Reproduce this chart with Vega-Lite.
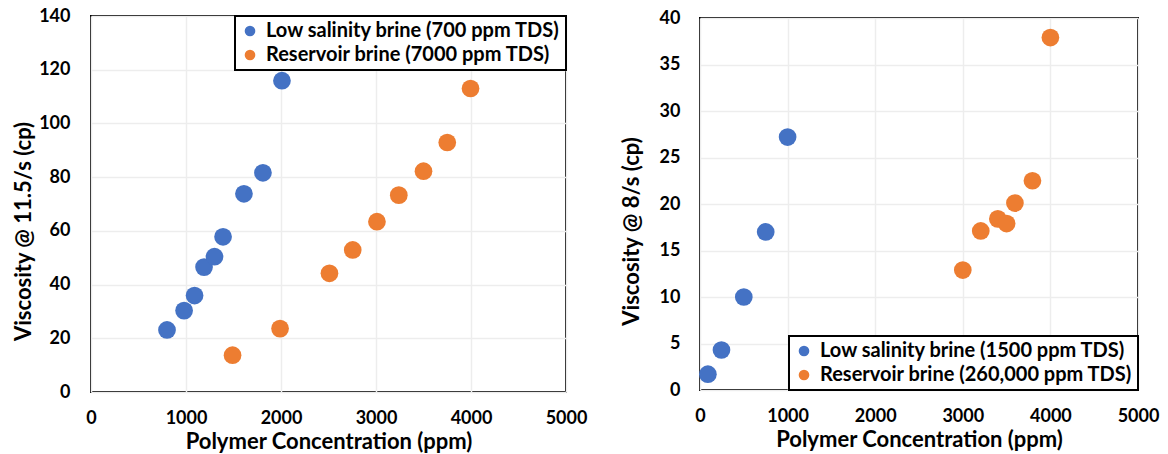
{
  "$schema": "https://vega.github.io/schema/vega-lite/v6.json",
  "padding": {"left": 11, "top": 6, "right": 5, "bottom": 0},
  "bounds": "flush",
  "center": true,
  "spacing": 134,
  "config": {
    "view": {"stroke": "black", "strokeWidth": 2},
    "font": "Lato",
    "axis": {
      "labelFont": "Lato", "labelFontWeight": "bold", "labelFontSize": 18, "labelColor": "black",
      "titleFont": "Lato", "titleFontWeight": "bold", "titleFontSize": 22, "titleColor": "black",
      "ticks": false, "domain": false, "gridColor": "#EDEDED", "gridWidth": 1.5, "labelFlush": false
    },
    "legend": {
      "offset": 0, "title": null, "strokeColor": "black", "strokeWidth": 2, "fillColor": "white",
      "padding": 5, "symbolType": "circle", "symbolSize": 113, "symbolStrokeWidth": 0,
      "labelFont": "Lato", "labelFontWeight": "bold", "labelFontSize": 20, "labelColor": "black",
      "rowPadding": 4, "labelOffset": 6, "labelLimit": 400
    }
  },
  "datasets": {
    "left": [
      {"series": "Low salinity brine (700 ppm TDS)", "conc": 800, "visc": 23.1},
      {"series": "Low salinity brine (700 ppm TDS)", "conc": 980, "visc": 30.3},
      {"series": "Low salinity brine (700 ppm TDS)", "conc": 1090, "visc": 35.9},
      {"series": "Low salinity brine (700 ppm TDS)", "conc": 1190, "visc": 46.5},
      {"series": "Low salinity brine (700 ppm TDS)", "conc": 1300, "visc": 50.4},
      {"series": "Low salinity brine (700 ppm TDS)", "conc": 1390, "visc": 57.8},
      {"series": "Low salinity brine (700 ppm TDS)", "conc": 1610, "visc": 73.8},
      {"series": "Low salinity brine (700 ppm TDS)", "conc": 1810, "visc": 81.6},
      {"series": "Low salinity brine (700 ppm TDS)", "conc": 2010, "visc": 115.9},
      {"series": "Reservoir brine (7000 ppm TDS)", "conc": 1490, "visc": 13.7},
      {"series": "Reservoir brine (7000 ppm TDS)", "conc": 1990, "visc": 23.6},
      {"series": "Reservoir brine (7000 ppm TDS)", "conc": 2510, "visc": 44.2},
      {"series": "Reservoir brine (7000 ppm TDS)", "conc": 2755, "visc": 52.9},
      {"series": "Reservoir brine (7000 ppm TDS)", "conc": 3010, "visc": 63.4},
      {"series": "Reservoir brine (7000 ppm TDS)", "conc": 3240, "visc": 73.3},
      {"series": "Reservoir brine (7000 ppm TDS)", "conc": 3500, "visc": 82.2},
      {"series": "Reservoir brine (7000 ppm TDS)", "conc": 3750, "visc": 92.9},
      {"series": "Reservoir brine (7000 ppm TDS)", "conc": 3995, "visc": 113.0}
    ],
    "right": [
      {"series": "Low salinity brine (1500 ppm TDS)", "conc": 90, "visc": 1.7},
      {"series": "Low salinity brine (1500 ppm TDS)", "conc": 245, "visc": 4.3},
      {"series": "Low salinity brine (1500 ppm TDS)", "conc": 500, "visc": 10.0},
      {"series": "Low salinity brine (1500 ppm TDS)", "conc": 750, "visc": 17.0},
      {"series": "Low salinity brine (1500 ppm TDS)", "conc": 1000, "visc": 27.2},
      {"series": "Reservoir brine (260,000 ppm TDS)", "conc": 3000, "visc": 12.9},
      {"series": "Reservoir brine (260,000 ppm TDS)", "conc": 3205, "visc": 17.1},
      {"series": "Reservoir brine (260,000 ppm TDS)", "conc": 3400, "visc": 18.4},
      {"series": "Reservoir brine (260,000 ppm TDS)", "conc": 3500, "visc": 17.9},
      {"series": "Reservoir brine (260,000 ppm TDS)", "conc": 3595, "visc": 20.1},
      {"series": "Reservoir brine (260,000 ppm TDS)", "conc": 3795, "visc": 22.5},
      {"series": "Reservoir brine (260,000 ppm TDS)", "conc": 4000, "visc": 37.9}
    ]
  },
  "hconcat": [
    {
      "width": 475, "height": 376,
      "data": {"name": "left"},
      "mark": {"type": "circle", "size": 314, "opacity": 1},
      "encoding": {
        "x": {"field": "conc", "type": "quantitative", "scale": {"domain": [0, 5000], "nice": false},
          "axis": {"values": [0, 1000, 2000, 3000, 4000, 5000], "format": "d", "title": "Polymer Concentration (ppm)", "labelPadding": 17, "titlePadding": 4}},
        "y": {"field": "visc", "type": "quantitative", "scale": {"domain": [0, 140], "nice": false},
          "axis": {"values": [0, 20, 40, 60, 80, 100, 120, 140], "title": "Viscosity @ 11.5/s (cp)", "labelPadding": 21, "titlePadding": 3, "titleY": 215}},
        "color": {"field": "series", "type": "nominal",
          "scale": {"domain": ["Low salinity brine (700 ppm TDS)", "Reservoir brine (7000 ppm TDS)"], "range": ["#4472C4", "#ED7D31"]},
          "legend": {"orient": "top-right"}}
      }
    },
    {
      "width": 438, "height": 372,
      "data": {"name": "right"},
      "mark": {"type": "circle", "size": 314, "opacity": 1},
      "encoding": {
        "x": {"field": "conc", "type": "quantitative", "scale": {"domain": [0, 5000], "nice": false},
          "axis": {"values": [0, 1000, 2000, 3000, 4000, 5000], "format": "d", "title": "Polymer Concentration (ppm)", "labelPadding": 17, "titlePadding": 4}},
        "y": {"field": "visc", "type": "quantitative", "scale": {"domain": [0, 40], "nice": false},
          "axis": {"values": [0, 5, 10, 15, 20, 25, 30, 35, 40], "title": "Viscosity @ 8/s (cp)", "labelPadding": 20, "titlePadding": 16, "titleY": 213}},
        "color": {"field": "series", "type": "nominal",
          "scale": {"domain": ["Low salinity brine (1500 ppm TDS)", "Reservoir brine (260,000 ppm TDS)"], "range": ["#4472C4", "#ED7D31"]},
          "legend": {"orient": "bottom-right"}}
      }
    }
  ],
  "resolve": {"scale": {"color": "independent"}, "legend": {"color": "independent"}}
}
